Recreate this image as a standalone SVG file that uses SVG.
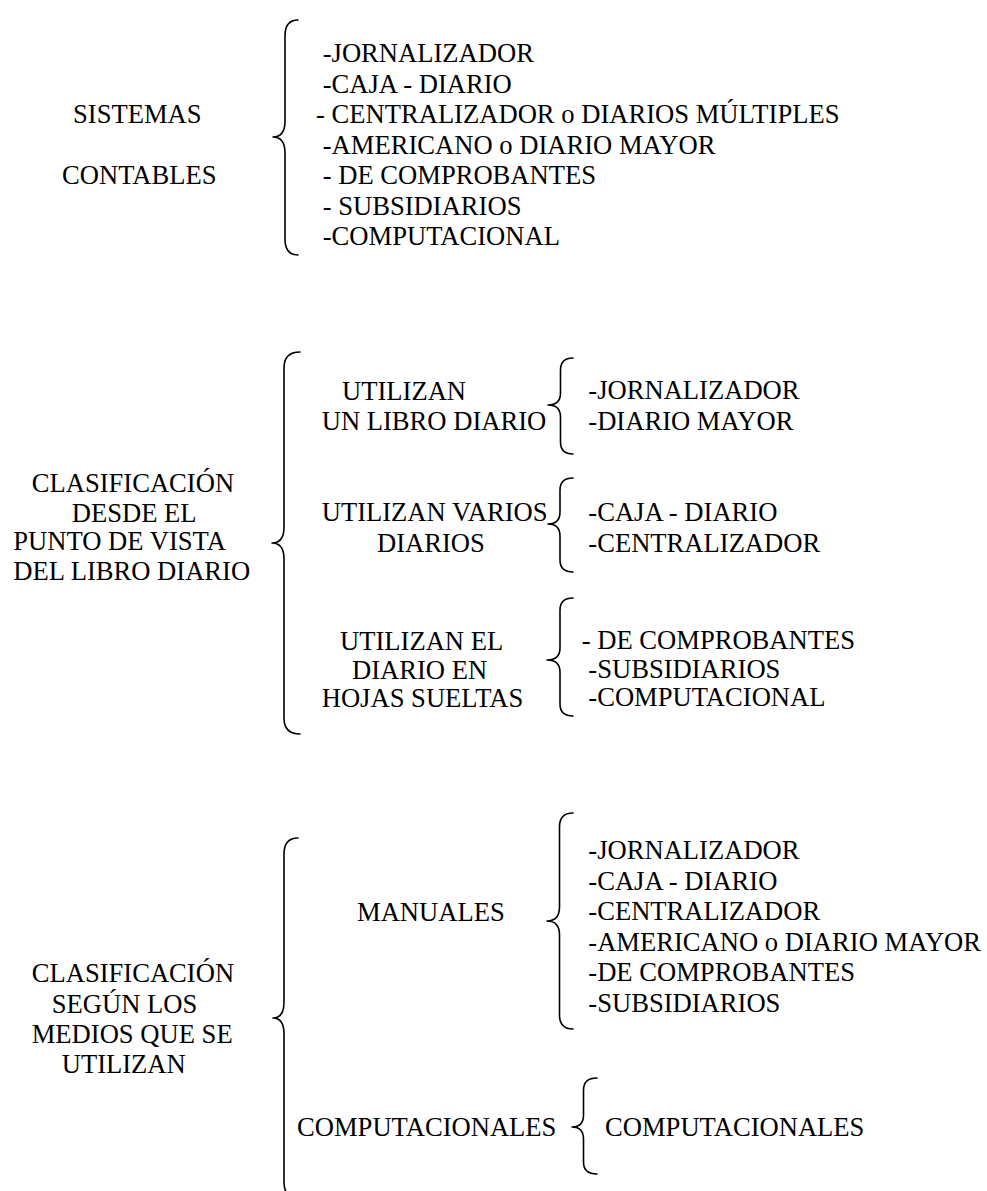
<svg xmlns="http://www.w3.org/2000/svg" width="987" height="1191" viewBox="0 0 987 1191">
  <style>
    text { font-family: "Liberation Serif", "Times New Roman", serif; font-size: 26.6px; fill: #000; }
    .brace { fill: none; stroke: #000; stroke-width: 1.6; stroke-linecap: round; stroke-linejoin: round; }
  </style>
  <rect width="987" height="1191" fill="#fff"/>

  <!-- curly braces linking each heading to its items -->
  <g id="connectors">
    <path class="brace" d="M298,20 Q285,20 285,36 V121 Q285,137 273,137 Q285,137 285,153 V239 Q285,255 298,255"/>
    <path class="brace" d="M300,352 Q284,352 284,368 V527 Q284,543 272,543 Q284,543 284,559 V718 Q284,734 300,734"/>
    <path class="brace" d="M573,358 Q560.5,358 560.5,370 V393 Q560.5,405 548,405 Q560.5,405 560.5,417 V442 Q560.5,454 573,454"/>
    <path class="brace" d="M573,478 Q560,478 560,490 V512 Q560,524 548,524 Q560,524 560,536 V560 Q560,572 573,572"/>
    <path class="brace" d="M573,598 Q560,598 560,610 V648 Q560,660 547,660 Q560,660 560,672 V704 Q560,716 573,716"/>
    <path class="brace" d="M298,838 Q284,838 284,854 V1002 Q284,1018 273,1018 Q284,1018 284,1034 V1182 Q284,1198 298,1198"/>
    <path class="brace" d="M573,813 Q559.5,813 559.5,827 V907 Q559.5,921 547,921 Q559.5,921 559.5,935 V1015 Q559.5,1029 573,1029"/>
    <path class="brace" d="M597,1078 Q583.5,1078 583.5,1090 V1115 Q583.5,1127 572,1127 Q583.5,1127 583.5,1139 V1162 Q583.5,1174 597,1174"/>
  </g>

  <!-- block 1: accounting systems -->
  <g id="sistemas-contables">
    <text x="73" y="123">SISTEMAS</text>
    <text x="62" y="184">CONTABLES</text>
  </g>
  <g id="lista-sistemas">
    <text x="322.7" y="62">-JORNALIZADOR</text>
    <text x="322.7" y="92.5">-CAJA - DIARIO</text>
    <text x="316" y="123">- CENTRALIZADOR o DIARIOS MÚLTIPLES</text>
    <text x="322.7" y="153.5">-AMERICANO o DIARIO MAYOR</text>
    <text x="322.7" y="184">- DE COMPROBANTES</text>
    <text x="322.7" y="214.5">- SUBSIDIARIOS</text>
    <text x="322.7" y="245">-COMPUTACIONAL</text>
  </g>

  <!-- block 2: by journal book -->
  <g id="clasificacion-libro-diario">
    <text x="31.7" y="491.7">CLASIFICACIÓN</text>
    <text x="71.7" y="521.7">DESDE EL</text>
    <text x="13.3" y="550">PUNTO DE VISTA</text>
    <text x="13.3" y="580">DEL LIBRO DIARIO</text>
  </g>
  <g id="un-libro-diario">
    <text x="342" y="400">UTILIZAN</text>
    <text x="321.7" y="430">UN LIBRO DIARIO</text>
  </g>
  <g id="lista-un-libro">
    <text x="588.3" y="399">-JORNALIZADOR</text>
    <text x="588.3" y="430">-DIARIO MAYOR</text>
  </g>
  <g id="varios-diarios">
    <text x="321.7" y="521">UTILIZAN VARIOS</text>
    <text x="377" y="552">DIARIOS</text>
  </g>
  <g id="lista-varios">
    <text x="588.3" y="521">-CAJA - DIARIO</text>
    <text x="588.3" y="552">-CENTRALIZADOR</text>
  </g>
  <g id="hojas-sueltas">
    <text x="340" y="650">UTILIZAN EL</text>
    <text x="352" y="678.5">DIARIO EN</text>
    <text x="321.7" y="707">HOJAS SUELTAS</text>
  </g>
  <g id="lista-hojas">
    <text x="581.7" y="649">- DE COMPROBANTES</text>
    <text x="588.3" y="677.5">-SUBSIDIARIOS</text>
    <text x="588.3" y="706">-COMPUTACIONAL</text>
  </g>

  <!-- block 3: by means used -->
  <g id="clasificacion-medios">
    <text x="31.7" y="982">CLASIFICACIÓN</text>
    <text x="51.7" y="1012.5">SEGÚN LOS</text>
    <text x="31.7" y="1043">MEDIOS QUE SE</text>
    <text x="61.7" y="1073">UTILIZAN</text>
  </g>
  <g id="manuales">
    <text x="357" y="920.5">MANUALES</text>
  </g>
  <g id="lista-manuales">
    <text x="588.3" y="859">-JORNALIZADOR</text>
    <text x="588.3" y="889.5">-CAJA - DIARIO</text>
    <text x="588.3" y="920">-CENTRALIZADOR</text>
    <text x="588.3" y="950.5">-AMERICANO o DIARIO MAYOR</text>
    <text x="588.3" y="981">-DE COMPROBANTES</text>
    <text x="588.3" y="1011.5">-SUBSIDIARIOS</text>
  </g>
  <g id="computacionales">
    <text x="297" y="1136">COMPUTACIONALES</text>
  </g>
  <g id="lista-computacionales">
    <text x="605" y="1136">COMPUTACIONALES</text>
  </g>
</svg>
